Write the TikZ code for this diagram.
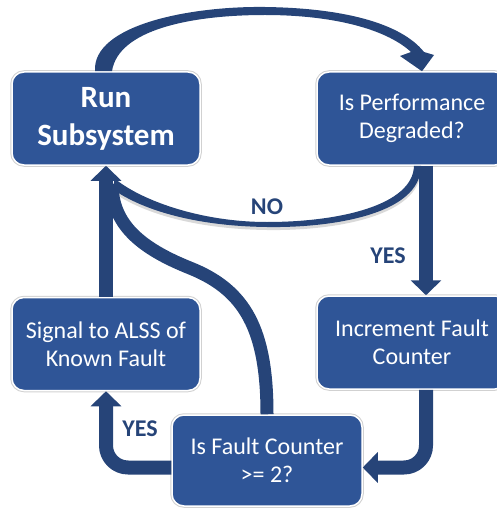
\documentclass[tikz,border=0pt]{standalone}
\usepackage{fontspec}
\setmainfont{Carlito}
\usetikzlibrary{arrows.meta, calc}
\definecolor{boxblue}{RGB}{47,85,151}
\definecolor{flowblue}{RGB}{38,68,120}
\tikzset{>=latex}
\tikzset{
    stepbox/.style={rounded corners=12pt, fill=boxblue, draw=white, line width=1.5pt,
        preaction={draw=black!18, line width=3.5pt},
        text=white, align=center, inner sep=0pt,
        minimum width=188pt, minimum height=93pt,
        font=\fontsize{24}{28}\selectfont},
    flow/.style={draw=flowblue, line width=14pt, -{Triangle[length=15pt,width=30pt]}},
    answer/.style={text=flowblue, font=\fontsize{24}{24}\selectfont\bfseries}
}

\begin{document}
\begin{tikzpicture}[x=1pt, y=-1pt, line join=round]
    \useasboundingbox (0,0) rectangle (496,508);
    % the five steps
    \node[stepbox, font=\fontsize{31}{38}\selectfont\bfseries] (run) at (106,118.5) {Run\\Subsystem};
    \node[stepbox, minimum width=190pt] (perf) at (412,118.5) {Is Performance\\Degraded?};
    \node[stepbox, minimum width=190pt] (inc) at (412,342.5) {Increment Fault\\Counter};
    \node[stepbox] (sig) at (106,344) {Signal to ALSS of\\Known Fault};
    \node[stepbox, minimum width=190pt, minimum height=91pt] (cnt) at (267,460.5) {Is Fault Counter\\>= 2?};

    % curved arrow over the top
    \fill[flowblue] ($(run.north)+(-11,0)$) .. controls (92,25) and (190,6) .. (265,7)
        .. controls (340,8) and (400,22) .. (424,52) -- (434,55) -- ($(perf.north)+(10,0)$)
        -- (400,56) -- (411,52) .. controls (385,28) and (330,15) .. (265,15)
        .. controls (190,15) and (118,30) .. ($(run.north)+(6,0)$) -- cycle;
    % NO branch back to the left
    \fill[flowblue, preaction={fill=black!15, transform canvas={yshift=-3pt}}]
        ($(perf.south)+(9,0)$) .. controls (421,215) and (330,228) .. (267,227)
        .. controls (190,226) and (140,208) .. (114,190) -- (114,178)
        .. controls (140,200) and (200,222) .. (267,222)
        .. controls (340,222) and (413,205) .. ($(perf.south)+(2,0)$) -- cycle;
    \node[answer] (no) at (267,207) {NO};

    \draw[flow] ([xshift=14pt]perf.south) -- ([xshift=14pt]inc.north);
    \node[answer] (yes1) at (388,256) {YES};
    \draw[flow, rounded corners=22pt] ([xshift=14pt]inc.south) |- ($(cnt.east)+(0,7)$);
    \draw[flow, rounded corners=22pt] ($(cnt.west)+(0,7)$) -| (sig.south);
    \node[answer] (yes2) at (140,429) {YES};

    % loop from the counter test back up
    \draw[flowblue, line width=13pt] (cnt.north) .. controls +(0,-85) and +(55,22) .. (190,268)
        .. controls +(-50,-20) and +(0,40) .. ($(run.south)+(6,18)$);
    \draw[flow] (sig.north) -- (run.south);
\end{tikzpicture}
\end{document}
